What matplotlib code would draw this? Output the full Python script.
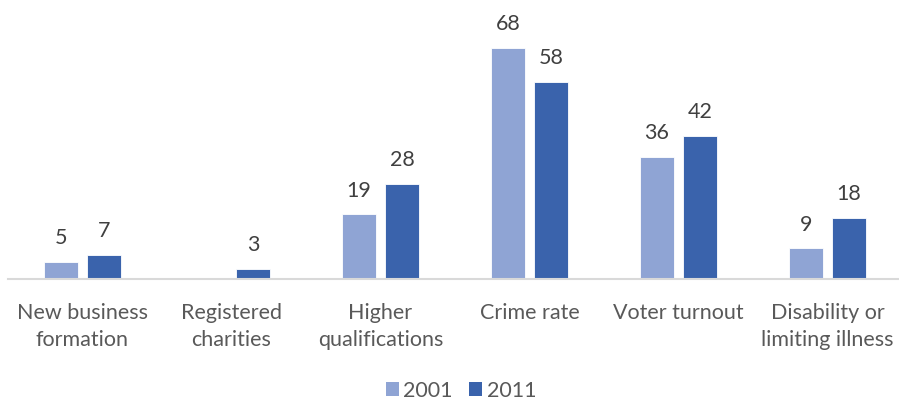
import numpy as np
import matplotlib
matplotlib.use("Agg")
import matplotlib.pyplot as plt
from matplotlib.patches import Patch

categories = ["New business\nformation", "Registered\ncharities", "Higher\nqualifications",
              "Crime rate", "Voter turnout", "Disability or\nlimiting illness"]
values_2001 = [5, np.nan, 19, 68, 36, 9]
values_2011 = [7, 3, 28, 58, 42, 18]
series_names = ["2001", "2011"]

c2001 = "#8FA4D4"
c2011 = "#3A63AC"

plt.rcParams["font.family"] = ["Lato", "DejaVu Sans"]
FS = 15.5

fig = plt.figure(figsize=(8.99, 4.03), dpi=100)
ax = fig.add_axes([8 / 899, 124 / 403, 894 / 899, 272 / 403])

x = np.arange(len(categories))
w = 0.228
off = 0.144
for vals, col, sgn in ((values_2001, c2001, -1), (values_2011, c2011, 1)):
    pos = x + sgn * off
    ax.bar(pos, vals, width=w, color=col, edgecolor="white", linewidth=0.6, zorder=2)
    for px, v in zip(pos, vals):
        if np.isnan(v):
            continue
        ax.annotate(f"{v:g}", (px, v), xytext=(0, 10), textcoords="offset points",
                    ha="center", va="bottom", fontsize=FS, color="#404040")

ax.set_xlim(-0.5, len(categories) - 0.5)
ax.set_ylim(0, 80)
ax.set_yticks([])
for s in ("left", "right", "top"):
    ax.spines[s].set_visible(False)
ax.spines["bottom"].set_color("#D9D9D9")
ax.spines["bottom"].set_linewidth(1.5)
ax.set_xticks(x)
ax.set_xticklabels(categories, fontsize=FS, color="#595959", linespacing=1.45)
ax.tick_params(axis="x", length=0, pad=17)

handles = [Patch(facecolor=c2001), Patch(facecolor=c2011)]
fig.legend(handles, series_names, loc="center", bbox_to_anchor=(461 / 899, 1 - 391 / 403),
           ncol=2, frameon=False, fontsize=FS, labelcolor="#595959",
           handlelength=0.62, handleheight=0.62, handletextpad=0.2, columnspacing=0.75)

fig.savefig("out.png", dpi=100)
